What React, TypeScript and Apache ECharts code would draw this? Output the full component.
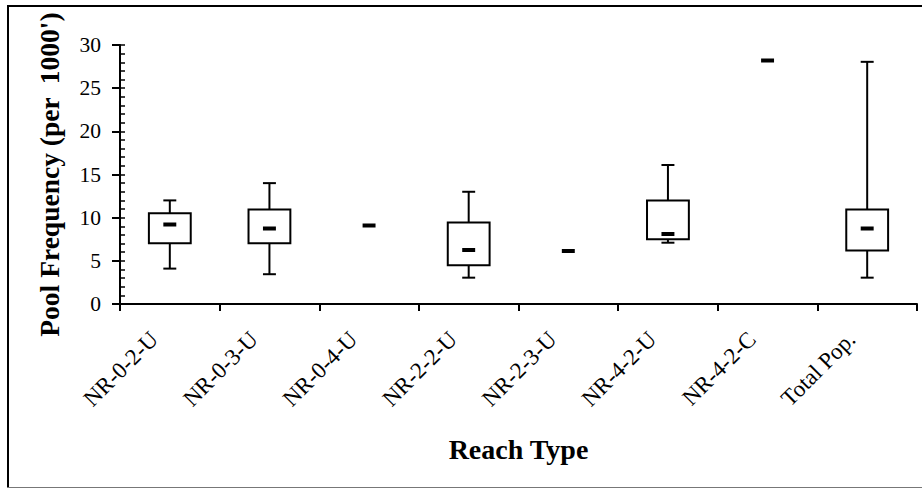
import React, { useEffect, useRef } from "react";
import * as echarts from "echarts";

const categories = ["NR-0-2-U", "NR-0-3-U", "NR-0-4-U", "NR-2-2-U", "NR-2-3-U", "NR-4-2-U", "NR-4-2-C", "Total Pop."];
const whiskerLow: (number | null)[] = [4.1, 3.45, null, 3.05, null, 7.1, null, 3.05];
const quartile1: (number | null)[] = [7.05, 7.05, null, 4.5, null, 7.5, null, 6.2];
const medians: number[] = [9.2, 8.75, 9.1, 6.25, 6.15, 8.1, 28.2, 8.75];
const quartile3: (number | null)[] = [10.5, 10.95, null, 9.45, null, 12.0, null, 10.95];
const whiskerHigh: (number | null)[] = [12.0, 14.0, null, 13.0, null, 16.1, null, 28.05];
const yTicks = [0, 5, 10, 15, 20, 25, 30];

const FONT = "'Liberation Serif', 'Times New Roman', serif";

export default function App() {
  const ref = useRef<HTMLDivElement>(null);
  useEffect(() => {
    document.body.style.margin = "0";
    const chart = echarts.init(ref.current!, null, { renderer: "svg" });
    const data = categories.map((_, i) => [
      i,
      whiskerLow[i] ?? medians[i],
      quartile1[i] ?? medians[i],
      medians[i],
      quartile3[i] ?? medians[i],
      whiskerHigh[i] ?? medians[i],
    ]);
    const option: any = {
      animation: false,
      backgroundColor: "#fff",
      grid: { left: 120, right: 5, top: 45, bottom: 185 },
      xAxis: {
        type: "category",
        data: categories,
        boundaryGap: true,
        name: "Reach Type",
        nameLocation: "middle",
        nameGap: 131,
        nameTextStyle: { fontFamily: FONT, fontSize: 28, fontWeight: "bold", color: "#000" },
        axisLine: { lineStyle: { color: "#000", width: 2 } },
        axisTick: { show: true, length: 7, lineStyle: { color: "#000", width: 2 } },
        axisLabel: {
          rotate: 45,
          fontFamily: FONT,
          fontSize: 23,
          color: "#000",
          margin: 16,
          padding: [0, 22, 0, 0],
          interval: 0,
        },
        splitLine: { show: false },
      },
      yAxis: [
        {
          type: "value",
          min: 0,
          max: 30,
          interval: 5,
          name: "Pool Frequency (per  1000')",
          nameLocation: "middle",
          nameGap: 57,
          nameRotate: 90,
          nameTextStyle: { fontFamily: FONT, fontSize: 27.5, fontWeight: "bold", color: "#000" },
          axisLine: { show: true, lineStyle: { color: "#000", width: 2 } },
          axisTick: { show: true, length: 8, lineStyle: { color: "#000", width: 2 } },
          axisLabel: {
            fontFamily: FONT,
            fontSize: 21.5,
            color: "#000",
            margin: 19,
            formatter: (v: number) => (yTicks.includes(v) ? String(v) : ""),
          },
          splitLine: { show: false },
        },
        {
          type: "value",
          min: 0,
          max: 30,
          interval: 1,
          position: "left",
          axisLine: { show: false },
          axisTick: { show: true, inside: true, length: 5, lineStyle: { color: "#000", width: 1.5 } },
          axisLabel: { show: false },
          splitLine: { show: false },
        },
      ],
      series: [
        {
          type: "custom",
          xAxisIndex: 0,
          yAxisIndex: 0,
          encode: { x: 0, y: [1, 2, 3, 4, 5] },
          data,
          renderItem: (params: any, api: any) => {
            const i = params.dataIndex;
            const band = api.size([1, 0])[0];
            const cx = api.coord([i, 0])[0];
            const boxW = band * 0.42;
            const capW = band * 0.13;
            const dashW = band * 0.13;
            const yMed = api.coord([i, medians[i]])[1];
            const children: any[] = [];
            const stroke = { stroke: "#000", lineWidth: 2, fill: "none" };
            if (quartile1[i] != null) {
              const yLo = api.coord([i, whiskerLow[i]])[1];
              const yQ1 = api.coord([i, quartile1[i]])[1];
              const yQ3 = api.coord([i, quartile3[i]])[1];
              const yHi = api.coord([i, whiskerHigh[i]])[1];
              children.push(
                { type: "line", shape: { x1: cx, y1: yLo, x2: cx, y2: yQ1 }, style: stroke },
                { type: "line", shape: { x1: cx, y1: yQ3, x2: cx, y2: yHi }, style: stroke },
                { type: "line", shape: { x1: cx - capW / 2, y1: yLo, x2: cx + capW / 2, y2: yLo }, style: stroke },
                { type: "line", shape: { x1: cx - capW / 2, y1: yHi, x2: cx + capW / 2, y2: yHi }, style: stroke },
                {
                  type: "rect",
                  shape: { x: cx - boxW / 2, y: yQ3, width: boxW, height: yQ1 - yQ3 },
                  style: { stroke: "#000", lineWidth: 2, fill: "#fff" },
                }
              );
            }
            children.push({
              type: "rect",
              shape: { x: cx - dashW / 2, y: yMed - 2, width: dashW, height: 4 },
              style: { fill: "#000" },
            });
            return { type: "group", children };
          },
        },
      ],
      graphic: [
        { type: "line", shape: { x1: 7, y1: 6, x2: 922, y2: 6 }, style: { stroke: "#000", lineWidth: 2 } },
        { type: "line", shape: { x1: 8, y1: 5, x2: 8, y2: 488 }, style: { stroke: "#000", lineWidth: 2 } },
        { type: "line", shape: { x1: 7, y1: 487.5, x2: 922, y2: 487.5 }, style: { stroke: "#777", lineWidth: 1 } },
      ],
    };
    chart.setOption(option);
    return () => chart.dispose();
  }, []);
  return <div ref={ref} style={{ width: 922, height: 489 }} />;
}
